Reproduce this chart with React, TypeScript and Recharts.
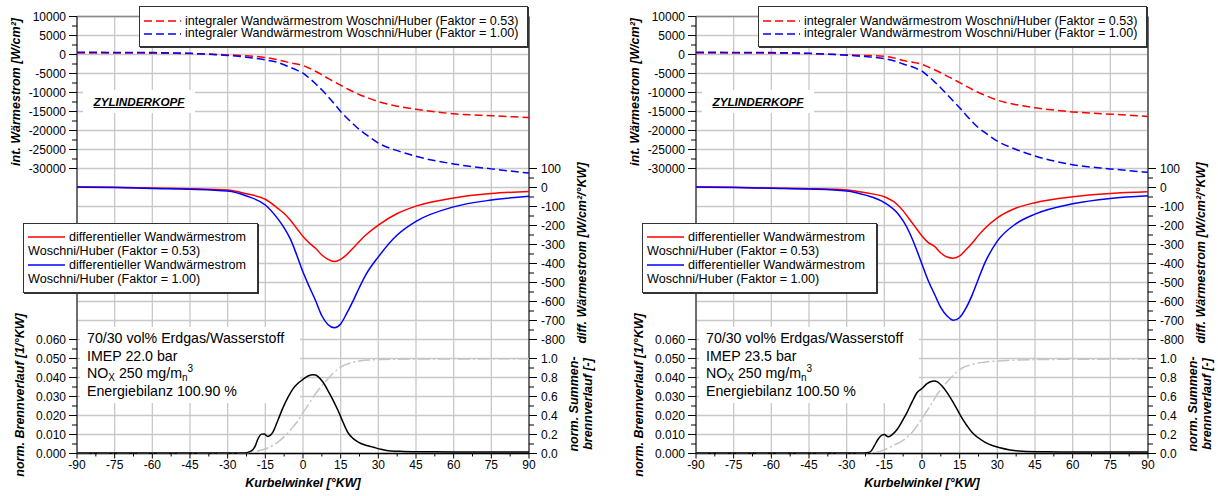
import React from 'react';
import { ComposedChart, Line, XAxis, YAxis, CartesianGrid, ReferenceLine } from 'recharts';

// ---------- data ----------
const ANGLES = [-90, -75, -60, -45, -30, -22.5, -15, -10, -7.5, -5, -2.5, 0, 2.5, 5, 7.5, 10, 12.5, 15, 17.5, 20, 22.5, 25, 30, 37.5, 45, 60, 75, 90];

const L_INT_053 = [400, 400, 350, 250, -100, -350, -800, -1400, -1800, -2200, -2500, -2900, -3600, -4400, -5300, -6300, -7200, -8100, -9000, -9800, -10600, -11200, -12400, -13600, -14400, -15600, -16100, -16600];
const L_INT_100 = [600, 550, 500, 300, -250, -700, -1400, -2100, -2700, -3400, -4100, -4900, -6200, -7700, -9300, -11100, -13000, -15000, -16700, -18300, -19800, -21000, -23300, -25300, -26800, -28800, -30100, -31200];
const L_DIFF_053 = [3, 1, -3, -7, -13, -33, -62, -110, -137, -172, -215, -258, -292, -320, -355, -378, -389, -378, -352, -318, -283, -250, -198, -137, -98, -55, -32, -21];
const L_DIFF_100 = [2, 0, -5, -9, -19, -45, -92, -165, -212, -272, -355, -445, -522, -595, -675, -722, -738, -718, -660, -595, -525, -460, -365, -250, -178, -102, -66, -46];

const R_INT_053 = [400, 400, 350, 250, -100, -250, -500, -1100, -1600, -1900, -2200, -2600, -3300, -4000, -4800, -5700, -6500, -7400, -8300, -9200, -10000, -10700, -12000, -13200, -14000, -15100, -15700, -16300];
const R_INT_100 = [600, 550, 500, 300, -200, -550, -1100, -1900, -2500, -3000, -3600, -4400, -5700, -7200, -8800, -10500, -12300, -14000, -15900, -17700, -19300, -20500, -22800, -25000, -26700, -29000, -30100, -31000];
const R_DIFF_053 = [3, 1, -3, -6, -13, -28, -49, -88, -123, -167, -211, -255, -290, -310, -345, -366, -372, -360, -328, -292, -252, -216, -160, -108, -80, -49, -32, -23];
const R_DIFF_100 = [2, 0, -4, -8, -18, -40, -79, -132, -176, -237, -316, -404, -491, -562, -632, -676, -699, -684, -635, -565, -480, -398, -282, -190, -140, -86, -58, -44];

const L_BURN_ANGLES = [-90, -60, -30, -24, -22, -20, -19, -18, -16.5, -15.5, -14, -12, -10, -8, -6, -4, -2, 0, 2, 4, 5, 6, 8, 10, 12, 14, 16, 18, 20, 22, 25, 28, 31, 35, 40, 50, 60, 75, 90];
const L_BURN = [0.0003, 0.0003, 0.0003, 0.0003, 0.0006, 0.002, 0.004, 0.0075, 0.0102, 0.0103, 0.009, 0.0112, 0.0175, 0.024, 0.0295, 0.034, 0.037, 0.039, 0.0408, 0.0415, 0.0413, 0.0405, 0.0375, 0.033, 0.028, 0.0225, 0.0163, 0.0108, 0.0078, 0.006, 0.0043, 0.0033, 0.0022, 0.0013, 0.0011, 0.0009, 0.0008, 0.0008, 0.0008];
const L_CUM_ANGLES = [-90, -60, -30, -24, -22, -20, -18, -16, -14, -12, -10, -8, -6, -4, -2, 0, 2, 4, 6, 8, 10, 12, 14, 16, 18, 20, 23, 27, 31, 40, 60, 90];
const L_CUM = [0.005, 0.005, 0.005, 0.005, 0.006, 0.015, 0.028, 0.04, 0.058, 0.085, 0.12, 0.165, 0.215, 0.28, 0.345, 0.43, 0.51, 0.59, 0.665, 0.73, 0.79, 0.845, 0.89, 0.925, 0.945, 0.962, 0.977, 0.985, 0.99, 0.993, 0.995, 0.997];

const R_BURN_ANGLES = [-90, -60, -30, -24, -22, -20.5, -19, -17.5, -16, -15, -13.5, -12, -10, -8, -6, -4, -2, 0, 2, 4, 5, 6, 8, 10, 12, 14, 16, 18, 20, 22, 25, 28, 31, 35, 40, 50, 60, 75, 90];
const R_BURN = [0.0003, 0.0003, 0.0003, 0.0003, 0.0004, 0.001, 0.004, 0.0075, 0.0097, 0.01, 0.0088, 0.0098, 0.0125, 0.0168, 0.0215, 0.027, 0.032, 0.0342, 0.0368, 0.038, 0.0382, 0.0378, 0.0355, 0.032, 0.0278, 0.0232, 0.0185, 0.0145, 0.011, 0.0087, 0.006, 0.0042, 0.003, 0.0019, 0.0012, 0.0009, 0.0008, 0.0008, 0.0008];
const R_CUM_ANGLES = [-90, -60, -30, -22, -20, -17, -14, -11, -8, -6, -4, -2, 0, 2, 4, 6, 8, 10, 12, 14, 16, 19, 22, 26, 34, 50, 70, 90];
const R_CUM = [0.005, 0.005, 0.005, 0.005, 0.008, 0.02, 0.05, 0.09, 0.13, 0.17, 0.22, 0.29, 0.37, 0.45, 0.53, 0.62, 0.69, 0.755, 0.81, 0.86, 0.9, 0.93, 0.95, 0.965, 0.98, 0.99, 0.993, 0.995];

// ---------- ticks ----------
const X_GRID_TICKS = [-90, -75, -60, -45, -30, -15, 0, 15, 30, 45, 60, 75, 90];
const X_AXIS_TICKS = [-90, -82.5, -75, -67.5, -60, -52.5, -45, -37.5, -30, -22.5, -15, -7.5, 0, 7.5, 15, 22.5, 30, 37.5, 45, 52.5, 60, 67.5, 75, 82.5, 90];
const GRID_ROW_TICKS = [0, 1, 2, 3, 4, 5, 6, 7, 8, 9, 10, 11, 12, 13, 14, 15, 16, 17, 18, 19, 20, 21, 22, 23];
const INT_TICKS = [10000, 7500, 5000, 2500, 0, -2500, -5000, -7500, -10000, -12500, -15000, -17500, -20000, -22500, -25000, -27500, -30000];
const DIFF_TICKS = [100, 50, 0, -50, -100, -150, -200, -250, -300, -350, -400, -450, -500, -550, -600, -650, -700, -750, -800];
const BURN_TICKS = [0.06, 0.055, 0.05, 0.045, 0.04, 0.035, 0.03, 0.025, 0.02, 0.015, 0.01, 0.005, 0];
const CUM_TICKS = [1, 0.9, 0.8, 0.7, 0.6, 0.5, 0.4, 0.3, 0.2, 0.1, 0];

// axis ranges (each sub-plot occupies its own band of the 23-row grid)
const GRID_DOMAIN = [0, 23];
const INT_DOMAIN = [-105000, 10000];
const DIFF_DOMAIN = [-1400, 900];
const BURN_DOMAIN = [0, 0.23];
const CUM_DOMAIN = [0, 4.6];

const FONT = '"Liberation Sans", Arial, sans-serif';
const W = 599;
const H = 496;
const MARGIN = { top: 16.5, right: 10, bottom: 12.5, left: 17 };

const isMajor = (v: number, step: number) => Math.abs(v / step - Math.round(v / step)) < 1e-6;

const EmptyTick = () => <g />;

const makeLeftTick = (step: number, fmt: (v: number) => string) => (props: any) => {
  const { x, y, payload } = props;
  const v = payload.value;
  const major = isMajor(v, step);
  const ax = x + 11;
  return (
    <g>
      <line x1={ax - (major ? 8 : 5)} x2={ax} y1={y} y2={y} stroke="#000" strokeWidth={1} />
      {major && (
        <text x={x} y={y} dy="0.355em" textAnchor="end" fontSize={12} fill="#000" fontFamily={FONT}>
          {fmt(v)}
        </text>
      )}
    </g>
  );
};

const makeRightTick = (step: number, fmt: (v: number) => string) => (props: any) => {
  const { x, y, payload } = props;
  const v = payload.value;
  const major = isMajor(v, step);
  const ax = x - 12;
  return (
    <g>
      <line x1={ax} x2={ax + (major ? 8 : 5)} y1={y} y2={y} stroke="#000" strokeWidth={1} />
      {major && (
        <text x={x} y={y} dy="0.355em" textAnchor="start" fontSize={12} fill="#000" fontFamily={FONT}>
          {fmt(v)}
        </text>
      )}
    </g>
  );
};

const XTick = (props: any) => {
  const { x, y, payload } = props;
  const v = payload.value;
  const major = isMajor(v, 15);
  const ay = y - 7;
  return (
    <g>
      <line x1={x} x2={x} y1={ay} y2={ay + (major ? 5 : 3)} stroke="#000" strokeWidth={1} />
      {major && (
        <text x={x} y={ay + 7} dy="0.71em" textAnchor="middle" fontSize={12} fill="#000" fontFamily={FONT}>
          {String(v)}
        </text>
      )}
    </g>
  );
};

const scaleOf = (axis: any, v: number) => {
  const s = axis && axis.scale;
  if (!s) return NaN;
  if (typeof s === 'function') return s(v);
  if (typeof s.map === 'function') return s.map(v);
  return NaN;
};

const layer: React.CSSProperties = { position: 'absolute', left: 0, top: 0 };

type PanelProps = {
  left: number;
  int053: number[];
  int100: number[];
  diff053: number[];
  diff100: number[];
  burnAngles: number[];
  burn: number[];
  cumAngles: number[];
  cum: number[];
  imep: string;
  energy: string;
};

const LegendLine = ({ color, dash }: { color: string; dash?: string }) => (
  <svg width={37} height={8} style={{ display: 'inline-block', verticalAlign: 'middle' }}>
    <line x1={0} x2={37} y1={4} y2={4} stroke={color} strokeWidth={1.5} strokeDasharray={dash} />
  </svg>
);

const Panel = (p: PanelProps) => {
  const topData = ANGLES.map((x, i) => ({ x, red: p.int053[i], blue: p.int100[i] }));
  const midData = ANGLES.map((x, i) => ({ x, red: p.diff053[i], blue: p.diff100[i] }));
  const burnData = p.burnAngles.map((x, i) => ({ x, burn: p.burn[i] }));
  const cumData = p.cumAngles.map((x, i) => ({ x, cum: p.cum[i] }));

  const titleStyle: React.CSSProperties = {
    position: 'absolute',
    transform: 'translate(-50%, -50%) rotate(-90deg)',
    whiteSpace: 'nowrap',
    fontWeight: 'bold',
    fontStyle: 'italic',
    fontSize: 12.5,
    fontFamily: FONT,
    color: '#000',
  };

  const hiddenX = (
    <XAxis xAxisId="x" dataKey="x" type="number" domain={[-90, 90]} allowDataOverflow ticks={X_GRID_TICKS} interval={0} height={30} tick={EmptyTick} tickLine={false} axisLine={false} />
  );

  return (
    <div style={{ position: 'absolute', left: p.left, top: 0, width: W, height: H }}>
      {/* grid and frame */}
      <div style={layer}>
        <ComposedChart width={W} height={H} margin={MARGIN} data={topData}>
          {hiddenX}
          <YAxis yAxisId="grid" orientation="left" type="number" domain={GRID_DOMAIN} allowDataOverflow ticks={GRID_ROW_TICKS} interval={0} width={60} tick={EmptyTick} tickLine={false} axisLine={false} />
          <YAxis yAxisId="dummyR" orientation="right" type="number" domain={[0, 1]} width={60} tick={EmptyTick} tickLine={false} axisLine={false} />
          <CartesianGrid
            xAxisId="x"
            yAxisId="grid"
            stroke="#c8c8c8"
            strokeWidth={1.3}
            verticalCoordinatesGenerator={({ xAxis }: any) => X_GRID_TICKS.map((v) => scaleOf(xAxis, v))}
            horizontalCoordinatesGenerator={({ yAxis }: any) => GRID_ROW_TICKS.map((v) => scaleOf(yAxis, v))}
          />
          <ReferenceLine xAxisId="x" yAxisId="grid" y={23} stroke="#8a8a8a" strokeWidth={1.5} />
          <ReferenceLine xAxisId="x" yAxisId="grid" x={90} stroke="#707070" strokeWidth={2} />
          <ReferenceLine xAxisId="x" yAxisId="grid" x={-90} stroke="#000" strokeWidth={1} />
          <ReferenceLine xAxisId="x" yAxisId="grid" y={0} stroke="#000" strokeWidth={1.5} />
        </ComposedChart>
      </div>

      {/* white text boxes below curves */}
      <div style={{ position: 'absolute', left: 83, top: 90, width: 112, height: 23, background: '#fff', display: 'flex', alignItems: 'center', justifyContent: 'center' }}>
        <span style={{ fontFamily: FONT, fontWeight: 'bold', fontStyle: 'italic', fontSize: 11.7, textDecoration: 'underline', color: '#000' }}>ZYLINDERKOPF</span>
      </div>
      <div style={{ position: 'absolute', left: 80, top: 327, width: 220, height: 76, background: '#fff' }}>
        <div style={{ position: 'absolute', left: 7, top: 3, fontFamily: FONT, fontSize: 14.2, lineHeight: '17.6px', color: '#000', whiteSpace: 'nowrap' }}>
          <div>70/30 vol% Erdgas/Wasserstoff</div>
          <div>IMEP {p.imep} bar</div>
          <div>
            NO<span style={{ fontSize: 10, verticalAlign: '-3px', lineHeight: 0 }}>X</span> 250 mg/m
            <span style={{ fontSize: 10, verticalAlign: '-3px', lineHeight: 0 }}>n</span>
            <span style={{ fontSize: 10, verticalAlign: '6px', lineHeight: 0 }}>3</span>
          </div>
          <div>Energiebilanz {p.energy} %</div>
        </div>
      </div>

      {/* top: integral heat flow */}
      <div style={layer}>
        <ComposedChart width={W} height={H} margin={MARGIN} data={topData}>
          {hiddenX}
          <YAxis yAxisId="int" orientation="left" type="number" domain={INT_DOMAIN} allowDataOverflow ticks={INT_TICKS} interval={0} width={60} tickSize={8} tickMargin={3} tickLine={false} axisLine={false} tick={makeLeftTick(5000, (v) => String(v))} />
          <YAxis yAxisId="dummyR" orientation="right" type="number" domain={[0, 1]} width={60} tick={EmptyTick} tickLine={false} axisLine={false} />
          <Line xAxisId="x" yAxisId="int" type="monotone" dataKey="red" stroke="#ff0000" strokeWidth={1.5} strokeDasharray="8 4" dot={false} isAnimationActive={false} />
          <Line xAxisId="x" yAxisId="int" type="monotone" dataKey="blue" stroke="#0000ff" strokeWidth={1.5} strokeDasharray="8 4" dot={false} isAnimationActive={false} />
        </ComposedChart>
      </div>

      {/* middle: differential heat flow */}
      <div style={layer}>
        <ComposedChart width={W} height={H} margin={MARGIN} data={midData}>
          {hiddenX}
          <YAxis yAxisId="dummyL" orientation="left" type="number" domain={[0, 1]} width={60} tick={EmptyTick} tickLine={false} axisLine={false} />
          <YAxis yAxisId="diff" orientation="right" type="number" domain={DIFF_DOMAIN} allowDataOverflow ticks={DIFF_TICKS} interval={0} width={60} tickSize={8} tickMargin={4} tickLine={false} axisLine={false} tick={makeRightTick(100, (v) => String(v))} />
          <Line xAxisId="x" yAxisId="diff" type="monotone" dataKey="red" stroke="#ff0000" strokeWidth={1.5} dot={false} isAnimationActive={false} />
          <Line xAxisId="x" yAxisId="diff" type="monotone" dataKey="blue" stroke="#0000ff" strokeWidth={1.5} dot={false} isAnimationActive={false} />
        </ComposedChart>
      </div>

      {/* bottom: burn rate */}
      <div style={layer}>
        <ComposedChart width={W} height={H} margin={MARGIN}>
          <XAxis xAxisId="x" dataKey="x" type="number" domain={[-90, 90]} allowDataOverflow ticks={X_AXIS_TICKS} interval={0} height={30} tickSize={5} tickMargin={2} tickLine={false} axisLine={false} tick={XTick} />
          <YAxis yAxisId="burn" orientation="left" type="number" domain={BURN_DOMAIN} allowDataOverflow ticks={BURN_TICKS} interval={0} width={60} tickSize={8} tickMargin={3} tickLine={false} axisLine={false} tick={makeLeftTick(0.01, (v) => v.toFixed(3))} />
          <YAxis yAxisId="cum" orientation="right" type="number" domain={CUM_DOMAIN} allowDataOverflow ticks={CUM_TICKS} interval={0} width={60} tickSize={8} tickMargin={4} tickLine={false} axisLine={false} tick={makeRightTick(0.2, (v) => v.toFixed(1))} />
          <Line xAxisId="x" yAxisId="cum" data={cumData} type="monotone" dataKey="cum" stroke="#c4c4c4" strokeWidth={1.5} strokeDasharray="12 3 2 3" dot={false} isAnimationActive={false} />
          <Line xAxisId="x" yAxisId="burn" data={burnData} type="monotone" dataKey="burn" stroke="#000" strokeWidth={1.5} dot={false} isAnimationActive={false} />
        </ComposedChart>
      </div>

      {/* legends */}
      <div style={{ position: 'absolute', left: 139, top: 6, width: 387, height: 39, background: '#fff', border: '1px solid #333', boxShadow: '1px 1px 0 #333', fontFamily: FONT, fontSize: 12.6, lineHeight: '12.6px', color: '#000', whiteSpace: 'nowrap' }}>
        <div style={{ position: 'absolute', left: 4, top: 7.5 }}>
          <div><LegendLine color="#ff0000" dash="8 4" /><span style={{ marginLeft: 4 }}>integraler Wandwärmestrom Woschni/Huber (Faktor = 0.53)</span></div>
          <div><LegendLine color="#0000ff" dash="8 4" /><span style={{ marginLeft: 4 }}>integraler Wandwärmestrom Woschni/Huber (Faktor = 1.00)</span></div>
        </div>
      </div>
      <div style={{ position: 'absolute', left: 23, top: 223, width: 233, height: 68, background: '#fff', border: '1px solid #333', boxShadow: '1px 1px 0 #333', fontFamily: FONT, fontSize: 12.6, lineHeight: '14.1px', color: '#000', whiteSpace: 'nowrap' }}>
        <div style={{ position: 'absolute', left: 4, top: 5.5 }}>
          <div><LegendLine color="#ff0000" /><span style={{ marginLeft: 4 }}>differentieller Wandwärmestrom</span></div>
          <div>Woschni/Huber (Faktor = 0.53)</div>
          <div><LegendLine color="#0000ff" /><span style={{ marginLeft: 4 }}>differentieller Wandwärmestrom</span></div>
          <div>Woschni/Huber (Faktor = 1.00)</div>
        </div>
      </div>

      {/* axis titles */}
      <div style={{ ...titleStyle, left: 16, top: 92 }}>int. Wärmestrom [W/cm²]</div>
      <div style={{ ...titleStyle, left: 20, top: 395 }}>norm. Brennverlauf [1/°KW]</div>
      <div style={{ ...titleStyle, left: 582, top: 253 }}>diff. Wärmestrom [W/cm²/°KW]</div>
      <div style={{ ...titleStyle, left: 581, top: 404, textAlign: 'center', lineHeight: '14px' }}>
        norm. Summen-<br />brennverlauf [-]
      </div>
      <div style={{ position: 'absolute', left: 303, top: 483, transform: 'translate(-50%, -50%)', whiteSpace: 'nowrap', fontWeight: 'bold', fontStyle: 'italic', fontSize: 12.5, fontFamily: FONT, color: '#000' }}>
        Kurbelwinkel [°KW]
      </div>
    </div>
  );
};

export default function App() {
  return (
    <div style={{ position: 'absolute', left: 0, top: 0, width: 1218, height: 496, overflow: 'hidden', background: '#fff' }}>
      <Panel left={0} int053={L_INT_053} int100={L_INT_100} diff053={L_DIFF_053} diff100={L_DIFF_100}
        burnAngles={L_BURN_ANGLES} burn={L_BURN} cumAngles={L_CUM_ANGLES} cum={L_CUM} imep="22.0" energy="100.90" />
      <Panel left={619} int053={R_INT_053} int100={R_INT_100} diff053={R_DIFF_053} diff100={R_DIFF_100}
        burnAngles={R_BURN_ANGLES} burn={R_BURN} cumAngles={R_CUM_ANGLES} cum={R_CUM} imep="23.5" energy="100.50" />
    </div>
  );
}
